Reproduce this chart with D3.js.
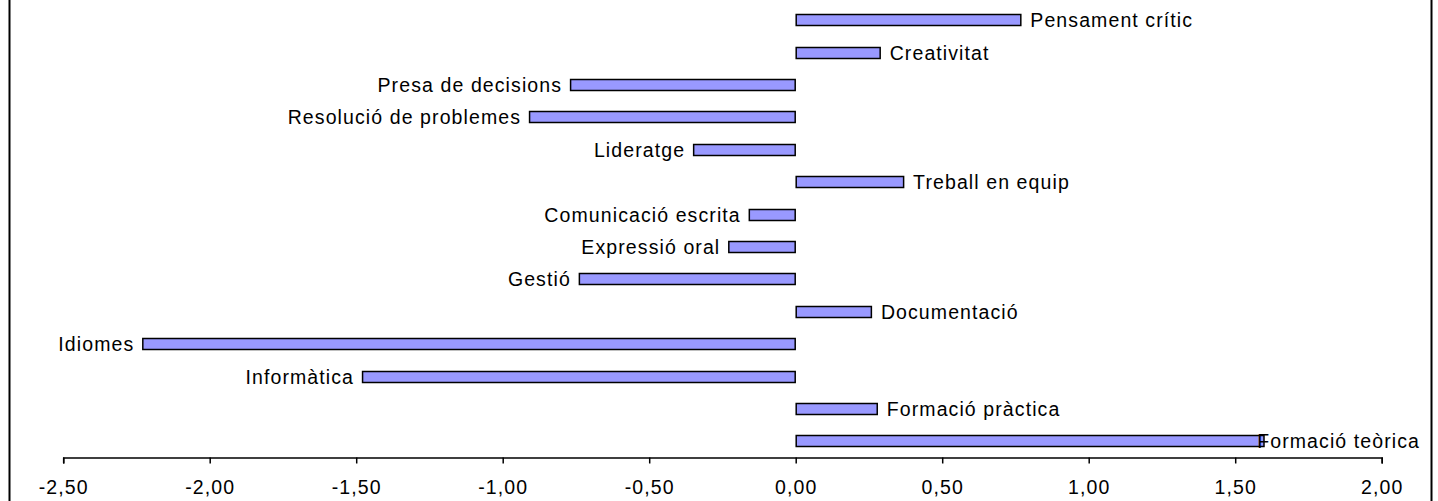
<!DOCTYPE html>
<html>
<head>
<meta charset="utf-8">
<script src="https://cdn.jsdelivr.net/npm/d3@7/dist/d3.min.js"></script>
<style>
  html, body { margin: 0; padding: 0; background: #fff; }
  svg { display: block; }
  text { font-family: "Liberation Sans", Arial, sans-serif; fill: #000; }
</style>
</head>
<body>
<svg id="chart" width="1438" height="501"></svg>
<script>
const categories = [
  "Pensament crític", "Creativitat", "Presa de decisions", "Resolució de problemes",
  "Lideratge", "Treball en equip", "Comunicació escrita", "Expressió oral",
  "Gestió", "Documentació", "Idiomes", "Informàtica", "Formació pràctica", "Formació teòrica"
];
const values = [0.77, 0.29, -0.77, -0.91, -0.35, 0.37, -0.16, -0.23, -0.74, 0.26, -2.23, -1.48, 0.28, 1.60];
const tickValues = [-2.5, -2.0, -1.5, -1.0, -0.5, 0.0, 0.5, 1.0, 1.5, 2.0];
const tickLabels = ["-2,50", "-2,00", "-1,50", "-1,00", "-0,50", "0,00", "0,50", "1,00", "1,50", "2,00"];

const svg = d3.select("#chart");
const W = 1438, H = 501;

// frame
svg.append("rect").attr("x", 9.5).attr("y", -5).attr("width", 1422).attr("height", H + 10)
  .attr("fill", "none").attr("stroke", "#000").attr("stroke-width", 2);

const x = d3.scaleLinear().domain([-2.5, 2.0]).range([63.2, 1381.7]);
const y = d3.scaleBand().domain(categories).range([4, 457.6]).paddingInner(0).paddingOuter(0);
const barH = 12;
const fontSize = 19.5;
const ls = "1.1px";

// axis
const axis = d3.axisBottom(x).tickValues(tickValues).tickSize(6).tickSizeOuter(6)
  .tickFormat((d, i) => tickLabels[i]);
const gAxis = svg.append("g").attr("transform", "translate(0,457.5)").call(axis);
gAxis.select(".domain").attr("stroke", "#000").attr("stroke-width", 1.5);
gAxis.selectAll(".tick line").attr("stroke", "#000").attr("stroke-width", 1.5);
gAxis.selectAll(".tick text").attr("y", 23).attr("dy", "0.71em")
  .style("font-family", '"Liberation Sans", Arial, sans-serif')
  .style("font-size", fontSize + "px").style("letter-spacing", ls).attr("fill", "#000");

// bars
const rows = categories.map((c, i) => ({ c, v: values[i] }));
svg.append("g").selectAll("rect").data(rows).join("rect")
  .attr("x", d => Math.min(x(0), x(d.v)) + 0.5)
  .attr("y", d => Math.round(y(d.c) + y.bandwidth() / 2 - barH / 2) + 0.5)
  .attr("width", d => Math.abs(x(d.v) - x(0)) - 1)
  .attr("height", barH - 1)
  .attr("fill", "#9999FF").attr("stroke", "#000").attr("stroke-width", 1.5);

// labels
const labels = svg.append("g").selectAll("text").data(rows).join("text")
  .attr("y", d => y(d.c) + y.bandwidth() / 2)
  .attr("dy", "0.36em")
  .style("font-size", fontSize + "px").style("letter-spacing", ls)
  .text(d => d.c)
  .attr("x", d => d.v >= 0 ? x(d.v) + 9 : x(d.v) - 8)
  .attr("text-anchor", d => d.v >= 0 ? "start" : "end");

labels.each(function(d) {
  const t = d3.select(this);
  const len = this.getComputedTextLength();
  if (d.v >= 0 && x(d.v) + 9 + len > 1420) {
    t.attr("x", 1420).attr("text-anchor", "end");
  }
});
</script>
</body>
</html>
